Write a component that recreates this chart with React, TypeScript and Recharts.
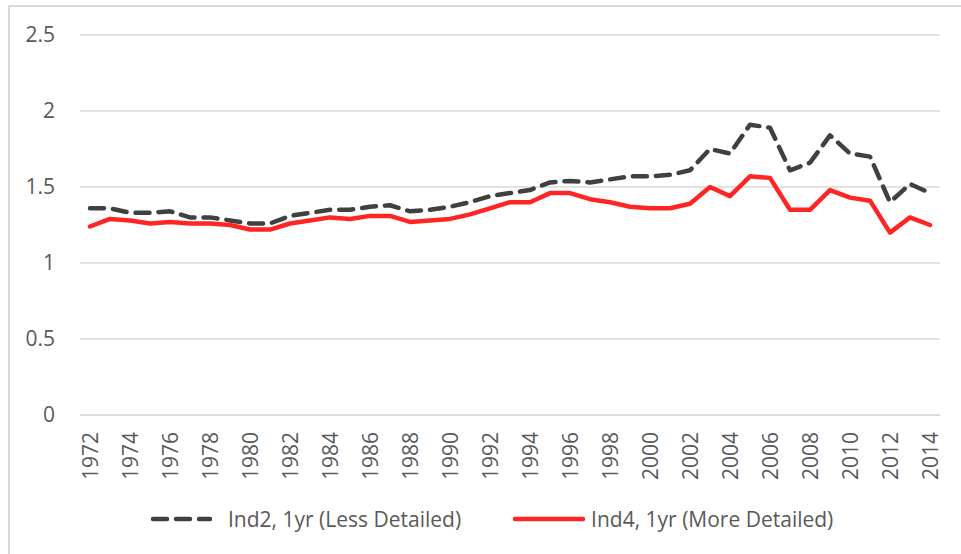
import React from 'react';
import { LineChart, Line, XAxis, YAxis, CartesianGrid, Legend } from 'recharts';

const years = [
  '1972', '1973', '1974', '1975', '1976', '1977', '1978', '1979', '1980', '1981',
  '1982', '1983', '1984', '1985', '1986', '1987', '1988', '1989', '1990', '1991',
  '1992', '1993', '1994', '1995', '1996', '1997', '1998', '1999', '2000', '2001',
  '2002', '2003', '2004', '2005', '2006', '2007', '2008', '2009', '2010', '2011',
  '2012', '2013', '2014',
];

// Ind2, 1yr (Less Detailed)
const ind2 = [
  1.36, 1.36, 1.33, 1.33, 1.34, 1.30, 1.30, 1.28, 1.26, 1.26,
  1.31, 1.33, 1.35, 1.35, 1.37, 1.38, 1.34, 1.35, 1.37, 1.40,
  1.44, 1.46, 1.48, 1.53, 1.54, 1.53, 1.55, 1.57, 1.57, 1.58,
  1.61, 1.75, 1.72, 1.91, 1.89, 1.61, 1.66, 1.84, 1.72, 1.70,
  1.40, 1.52, 1.46,
];

// Ind4, 1yr (More Detailed)
const ind4 = [
  1.24, 1.29, 1.28, 1.26, 1.27, 1.26, 1.26, 1.25, 1.22, 1.22,
  1.26, 1.28, 1.30, 1.29, 1.31, 1.31, 1.27, 1.28, 1.29, 1.32,
  1.36, 1.40, 1.40, 1.46, 1.46, 1.42, 1.40, 1.37, 1.36, 1.36,
  1.39, 1.50, 1.44, 1.57, 1.56, 1.35, 1.35, 1.48, 1.43, 1.41,
  1.20, 1.30, 1.25,
];

const yTicks = [0, 0.5, 1, 1.5, 2, 2.5];

const labelInd2 = 'Ind2, 1yr (Less Detailed)';
const labelInd4 = 'Ind4, 1yr (More Detailed)';

const data = years.map((year, i) => ({ year, ind2: ind2[i], ind4: ind4[i] }));

const FONT = '"Open Sans", "Noto Sans", sans-serif';
const FS = 21;
const TEXT = '#595959';
const GRID = '#d9d9d9';
const DARK = '#404040';
const RED = '#ff2525';

const YearTick = (props: any) => {
  const { x, y, payload } = props;
  return (
    <text
      x={x}
      y={y}
      transform={`rotate(-90 ${x} ${y})`}
      textAnchor="end"
      dominantBaseline="central"
      fill={TEXT}
      fontSize={FS}
      fontFamily={FONT}
    >
      {payload.value}
    </text>
  );
};

const LegendBox = () => (
  <div
    style={{
      height: 40,
      display: 'flex',
      alignItems: 'center',
      paddingLeft: 140,
      fontFamily: FONT,
      fontSize: FS,
      color: TEXT,
      whiteSpace: 'nowrap',
    }}
  >
    <svg width={62} height={10}>
      <line x1={3} y1={5} x2={60} y2={5} stroke={DARK} strokeWidth={4.5}
        strokeDasharray="14 9" strokeLinecap="round" />
    </svg>
    <span style={{ marginLeft: 16 }}>{labelInd2}</span>
    <svg width={72} height={10} style={{ marginLeft: 52 }}>
      <line x1={2} y1={5} x2={70} y2={5} stroke={RED} strokeWidth={4.5}
        strokeLinecap="round" />
    </svg>
    <span style={{ marginLeft: 6 }}>{labelInd4}</span>
  </div>
);

export default function App() {
  return (
    <div
      style={{
        position: 'absolute',
        left: 8,
        top: 5,
        width: 953,
        height: 549,
        borderLeft: `2px solid ${GRID}`,
        borderTop: `2px solid ${GRID}`,
        background: '#fff',
      }}
    >
      <LineChart
        width={950}
        height={548}
        data={data}
        margin={{ top: 28, right: 20, left: 0, bottom: 16 }}
      >
        <CartesianGrid vertical={false} stroke={GRID} strokeWidth={1.5} />
        <XAxis
          dataKey="year"
          interval={1}
          height={84}
          padding={{ left: 10, right: 10 }}
          tickLine={false}
          tickSize={0}
          tickMargin={17}
          axisLine={{ stroke: GRID, strokeWidth: 1.5 }}
          tick={<YearTick />}
        />
        <YAxis
          domain={[0, 2.5]}
          ticks={yTicks}
          width={70}
          axisLine={false}
          tickLine={false}
          tickSize={0}
          tickMargin={25}
          tick={{ fill: TEXT, fontSize: FS, fontFamily: FONT }}
        />
        <Legend verticalAlign="bottom" content={<LegendBox />} />
        <Line
          type="linear"
          dataKey="ind2"
          name={labelInd2}
          stroke={DARK}
          strokeWidth={4.5}
          strokeDasharray="14 9"
          strokeLinecap="round"
          strokeLinejoin="round"
          dot={false}
          isAnimationActive={false}
        />
        <Line
          type="linear"
          dataKey="ind4"
          name={labelInd4}
          stroke={RED}
          strokeWidth={4.5}
          strokeLinecap="round"
          strokeLinejoin="round"
          dot={false}
          isAnimationActive={false}
        />
      </LineChart>
    </div>
  );
}
